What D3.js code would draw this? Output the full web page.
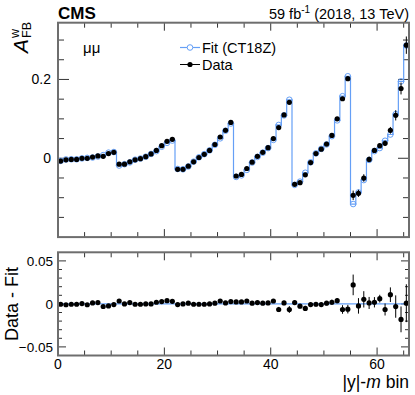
<!DOCTYPE html>
<html>
<head>
<meta charset="utf-8">
<script src="https://cdn.jsdelivr.net/npm/d3@7"></script>
<style>
  body { margin: 0; background: #fff; }
  text { font-family: "Liberation Sans", Arial, sans-serif; fill: #000; }
</style>
</head>
<body>
<div id="chart"></div>
<script>
var width = 415,
    height = 395;

// A_FB^w measured in data, per |y|-m bin (6 mass groups x 11 rapidity bins)
var dataAfb = [
  -0.007, -0.004, -0.003, -0.003, 0.000, 0.000, 0.003, 0.006, 0.005, 0.012, 0.015,
  -0.015, -0.015, -0.009, -0.004, -0.001, 0.004, 0.011, 0.020, 0.032, 0.043, 0.048,
  -0.028, -0.028, -0.020, -0.009, 0.002, 0.010, 0.020, 0.035, 0.054, 0.071, 0.091,
  -0.045, -0.041, -0.026, -0.010, 0.005, 0.015, 0.027, 0.050, 0.078, 0.110, 0.142,
  -0.066, -0.062, -0.042, -0.011, 0.012, 0.023, 0.036, 0.058, 0.100, 0.151, 0.202,
  -0.094, -0.089, -0.050, -0.003, 0.020, 0.032, 0.038, 0.071, 0.109, 0.177, 0.287
];

// data - fit
var residual = [
  -0.0004, -0.0010, -0.0004, -0.0004, 0.0004, -0.0010, 0.0011, 0.0015, -0.0030, -0.0023, -0.0008,
  0.0034, 0.0000, 0.0015, -0.0004, -0.0004, 0.0000, 0.0000, 0.0019, 0.0027, 0.0038, 0.0030,
  -0.0008, 0.0000, 0.0008, -0.0004, -0.0004, -0.0004, 0.0000, 0.0008, 0.0034, 0.0011, 0.0027,
  0.0023, 0.0023, 0.0034, 0.0008, 0.0015, 0.0008, 0.0011, 0.0034, -0.0065, 0.0011, -0.0065,
  0.0015, -0.0027, -0.0053, -0.0008, -0.0004, -0.0008, 0.0008, 0.0019, 0.0038, -0.0065, -0.0061,
  0.0221, -0.0023, 0.0053, 0.0011, 0.0019, 0.0061, -0.0065, 0.0107, -0.0031, -0.0180, 0.0008
];

// stat. uncertainty of data
var dataErr = [
  0.0010, 0.0010, 0.0010, 0.0010, 0.0010, 0.0010, 0.0010, 0.0010, 0.0010, 0.0012, 0.0012,
  0.0012, 0.0012, 0.0012, 0.0012, 0.0012, 0.0012, 0.0012, 0.0012, 0.0012, 0.0013, 0.0013,
  0.0012, 0.0012, 0.0012, 0.0012, 0.0012, 0.0012, 0.0013, 0.0013, 0.0013, 0.0014, 0.0014,
  0.0015, 0.0015, 0.0015, 0.0015, 0.0016, 0.0016, 0.0017, 0.0018, 0.0030, 0.0025, 0.0040,
  0.0025, 0.0025, 0.0030, 0.0025, 0.0025, 0.0025, 0.0025, 0.0030, 0.0030, 0.0050, 0.0050,
  0.0120, 0.0090, 0.0095, 0.0070, 0.0060, 0.0045, 0.0070, 0.0085, 0.0130, 0.0150, 0.0220
];

var xTickVals = [0, 20, 40, 60];
var yTopTickVals = [0, 0.2];
var yBotTickVals = [-0.05, 0, 0.05];

var bins = d3.range(dataAfb.length);
var fitAfb = bins.map(function(i) { return dataAfb[i] - residual[i]; });

var fitColor = "#659ff6",
    frameColor = "#6e6e6e";

var left = 58, right = 409;
var x = d3.scaleLinear().domain([0, 66]).range([left, right]);
var yTop = d3.scaleLinear().domain([-0.2, 0.344]).range([237.1, 22.7]);
var yBot = d3.scaleLinear().domain([-0.06, 0.06]).range([355.5, 252.3]);

var svg = d3.select("#chart").append("svg")
    .attr("width", width)
    .attr("height", height);

function drawTicks(g, y, yMinor, yMajor, lenMajX, lenMinX, lenMajY, lenMinY) {
  var y0 = y.range()[0], y1 = y.range()[1];
  d3.range(5, 66, 5).forEach(function(v) {
    var len = v % 20 === 0 ? lenMajX : lenMinX;
    g.append("line").attr("x1", x(v)).attr("x2", x(v)).attr("y1", y0).attr("y2", y0 - len);
    g.append("line").attr("x1", x(v)).attr("x2", x(v)).attr("y1", y1).attr("y2", y1 + len);
  });
  yMinor.forEach(function(v) {
    var major = yMajor.some(function(m) { return Math.abs(m - v) < 1e-9; });
    var len = major ? lenMajY : lenMinY;
    g.append("line").attr("x1", left).attr("x2", left + len).attr("y1", y(v)).attr("y2", y(v));
    g.append("line").attr("x1", right).attr("x2", right - len).attr("y1", y(v)).attr("y2", y(v));
  });
}

// ---------- top panel ----------
var topPanel = svg.append("g");

var ticksTop = topPanel.append("g").attr("stroke", "#333").attr("stroke-width", 1);
drawTicks(ticksTop, yTop, d3.range(-0.15, 0.344, 0.05).map(function(v) { return +v.toFixed(2); }),
  [0, 0.2], 8, 5, 11, 6);

var stepLine = d3.line()
    .x(function(d) { return x(d[0]); })
    .y(function(d) { return yTop(d[1]); })
    .curve(d3.curveStepAfter);

var stepPts = bins.map(function(i) { return [i, fitAfb[i]]; });
stepPts.push([66, fitAfb[65]]);

topPanel.append("path")
    .datum(stepPts)
    .attr("d", stepLine)
    .attr("fill", "none")
    .attr("stroke", fitColor)
    .attr("stroke-width", 1.2);

topPanel.selectAll("circle.fit")
    .data(bins)
  .enter().append("circle")
    .attr("class", "fit")
    .attr("cx", function(i) { return x(i + 0.5); })
    .attr("cy", function(i) { return yTop(fitAfb[i]); })
    .attr("r", 2.8)
    .attr("fill", "none")
    .attr("stroke", fitColor)
    .attr("stroke-width", 1);

topPanel.selectAll("line.err")
    .data(bins)
  .enter().append("line")
    .attr("class", "err")
    .attr("x1", function(i) { return x(i + 0.5); })
    .attr("x2", function(i) { return x(i + 0.5); })
    .attr("y1", function(i) { return yTop(dataAfb[i] - dataErr[i]); })
    .attr("y2", function(i) { return yTop(dataAfb[i] + dataErr[i]); })
    .attr("stroke", "#000")
    .attr("stroke-width", 1);

topPanel.selectAll("circle.data")
    .data(bins)
  .enter().append("circle")
    .attr("class", "data")
    .attr("cx", function(i) { return x(i + 0.5); })
    .attr("cy", function(i) { return yTop(dataAfb[i]); })
    .attr("r", 2.6)
    .attr("fill", "#000");

topPanel.append("rect")
    .attr("x", left).attr("y", yTop.range()[1])
    .attr("width", right - left).attr("height", yTop.range()[0] - yTop.range()[1])
    .attr("fill", "none").attr("stroke", frameColor).attr("stroke-width", 2);

topPanel.selectAll("text.ytick")
    .data(yTopTickVals)
  .enter().append("text")
    .attr("class", "ytick")
    .attr("x", left - 7)
    .attr("y", function(d) { return yTop(d); })
    .attr("dy", "0.36em")
    .attr("text-anchor", "end")
    .style("font-size", "14px")
    .text(function(d) { return d === 0 ? "0" : d3.format(".1f")(d); });

// y title A_FB^w
var yt = topPanel.append("g").attr("transform", "translate(28,22) rotate(-90)");
var fb = yt.append("text").attr("x", 0).attr("y", 3).attr("text-anchor", "end")
    .style("font-size", "12.5px").text("FB");
var fbLen = fb.node().getComputedTextLength();
yt.append("text").attr("x", -fbLen).attr("y", -9).style("font-size", "12.5px").text("w");
yt.append("text").attr("x", -fbLen - 1).attr("y", 0).attr("text-anchor", "end")
    .style("font-size", "21px").style("font-style", "italic").text("A");

svg.append("text").attr("x", 83).attr("y", 53).style("font-size", "15px").text("μμ");

// legend
var legend = svg.append("g");
legend.append("line").attr("x1", 180).attr("x2", 200).attr("y1", 47.5).attr("y2", 47.5)
    .attr("stroke", fitColor).attr("stroke-width", 1.2);
legend.append("circle").attr("cx", 190).attr("cy", 47.5).attr("r", 2.8)
    .attr("fill", "#fff").attr("stroke", fitColor);
legend.append("text").attr("x", 202).attr("y", 52.5).style("font-size", "14.5px").text("Fit (CT18Z)");
legend.append("line").attr("x1", 180).attr("x2", 200).attr("y1", 64.5).attr("y2", 64.5)
    .attr("stroke", "#000").attr("stroke-width", 1);
legend.append("circle").attr("cx", 190).attr("cy", 64.5).attr("r", 2.6).attr("fill", "#000");
legend.append("text").attr("x", 202).attr("y", 69.5).style("font-size", "14.5px").text("Data");

svg.append("text").attr("x", 58).attr("y", 18.5)
    .style("font-size", "17px").style("font-weight", "bold").text("CMS");

var lumi = svg.append("text").attr("x", 409).attr("y", 18.5).attr("text-anchor", "end")
    .style("font-size", "14.5px");
lumi.append("tspan").text("59 fb");
lumi.append("tspan").attr("dy", -6).style("font-size", "10px").text("-1");
lumi.append("tspan").attr("dy", 6).text(" (2018, 13 TeV)");

// ---------- bottom panel ----------
var botPanel = svg.append("g");

var ticksBot = botPanel.append("g").attr("stroke", "#333").attr("stroke-width", 1);
drawTicks(ticksBot, yBot, d3.range(-0.05, 0.051, 0.01).map(function(v) { return +v.toFixed(2); }),
  [-0.05, 0, 0.05], 8, 5, 8, 4);

botPanel.append("line")
    .attr("x1", left).attr("x2", right)
    .attr("y1", yBot(0)).attr("y2", yBot(0))
    .attr("stroke", fitColor).attr("stroke-width", 1.2);

botPanel.selectAll("line.err")
    .data(bins)
  .enter().append("line")
    .attr("class", "err")
    .attr("x1", function(i) { return x(i + 0.5); })
    .attr("x2", function(i) { return x(i + 0.5); })
    .attr("y1", function(i) { return yBot(residual[i] - dataErr[i]); })
    .attr("y2", function(i) { return yBot(residual[i] + dataErr[i]); })
    .attr("stroke", "#000")
    .attr("stroke-width", 1);

botPanel.selectAll("circle.data")
    .data(bins)
  .enter().append("circle")
    .attr("class", "data")
    .attr("cx", function(i) { return x(i + 0.5); })
    .attr("cy", function(i) { return yBot(residual[i]); })
    .attr("r", 2.6)
    .attr("fill", "#000");

botPanel.append("rect")
    .attr("x", left).attr("y", yBot.range()[1])
    .attr("width", right - left).attr("height", yBot.range()[0] - yBot.range()[1])
    .attr("fill", "none").attr("stroke", frameColor).attr("stroke-width", 2);

botPanel.selectAll("text.ytick")
    .data(yBotTickVals)
  .enter().append("text")
    .attr("class", "ytick")
    .attr("x", left - 5)
    .attr("y", function(d) { return yBot(d); })
    .attr("dy", "0.36em")
    .attr("text-anchor", "end")
    .style("font-size", "13.5px")
    .text(function(d) { return d === 0 ? "0" : (d < 0 ? "\u22120.05" : "0.05"); });

botPanel.selectAll("text.xtick")
    .data(xTickVals)
  .enter().append("text")
    .attr("class", "xtick")
    .attr("x", function(d) { return x(d); })
    .attr("y", 369)
    .attr("text-anchor", "middle")
    .style("font-size", "14px")
    .text(function(d) { return d; });

var xt = svg.append("text").attr("x", 409).attr("y", 388).attr("text-anchor", "end")
    .style("font-size", "17.5px");
xt.append("tspan").text("|y|-");
xt.append("tspan").style("font-style", "italic").text("m");
xt.append("tspan").text(" bin");

svg.append("text")
    .attr("transform", "translate(18," + yBot(0) + ") rotate(-90)")
    .attr("text-anchor", "middle")
    .style("font-size", "18px")
    .text("Data - Fit");
</script>
</body>
</html>
